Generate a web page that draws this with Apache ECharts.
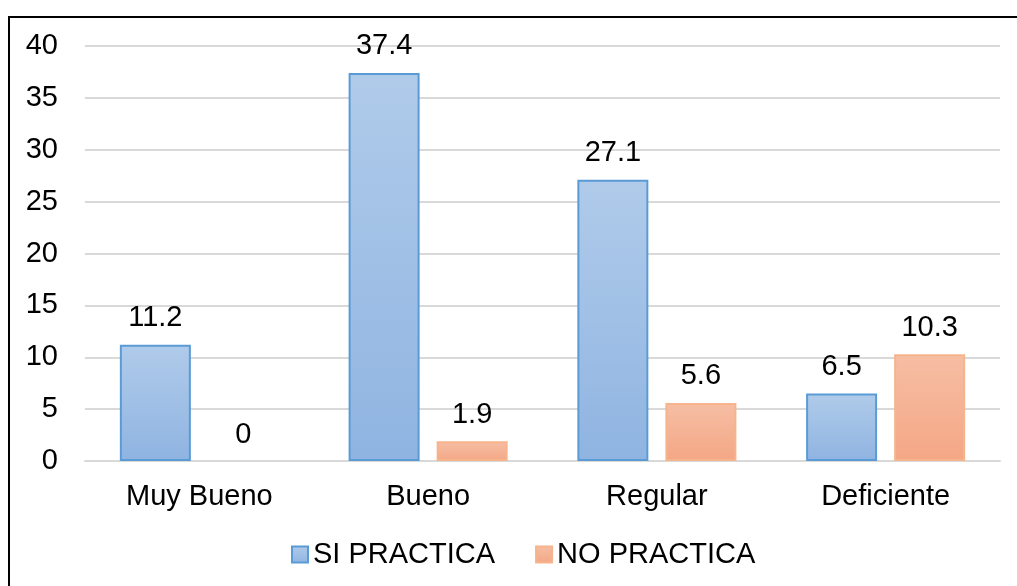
<!DOCTYPE html>
<html>
<head>
<meta charset="utf-8">
<script src="https://cdn.jsdelivr.net/npm/echarts@6/dist/echarts.min.js"></script>
<style>
  html, body { margin: 0; padding: 0; background: #fff; }
  #chart { width: 1017px; height: 586px; }
</style>
</head>
<body>
<div id="chart"></div>
<script>
const categories = ['Muy Bueno', 'Bueno', 'Regular', 'Deficiente'];
const siPractica = [11.2, 37.4, 27.1, 6.5];
const noPractica = [0, 1.9, 5.6, 10.3];
const seriesNames = ['SI PRACTICA', 'NO PRACTICA'];

const font = 'Liberation Sans, Arial, sans-serif';
const fontSize = 29;

function grad(top, bottom) {
  return new echarts.graphic.LinearGradient(0, 0, 0, 1, [
    { offset: 0, color: top },
    { offset: 1, color: bottom }
  ]);
}

// zero-height bars get no outline so only their label shows
function barData(values) {
  return values.map(v => v === 0 ? { value: v, itemStyle: { borderWidth: 0 } } : v);
}

const chart = echarts.init(document.getElementById('chart'), null, { renderer: 'canvas' });

const labelStyle = {
  show: true,
  position: 'top',
  distance: 12,
  fontFamily: font,
  fontSize: fontSize,
  color: '#000'
};

chart.setOption({
  animation: false,
  backgroundColor: '#fff',
  grid: { left: 85, right: 17, top: 46, bottom: 125 },
  legend: {
    top: 535,
    left: 286,
    itemWidth: 16,
    itemHeight: 16,
    itemGap: 40,
    icon: 'rect',
    textStyle: { fontFamily: font, fontSize: fontSize, color: '#000' },
    data: seriesNames
  },
  xAxis: {
    type: 'category',
    data: categories,
    axisLine: { show: true, lineStyle: { color: '#d9d9d9', width: 2 } },
    axisTick: { show: false },
    axisLabel: { fontFamily: font, fontSize: fontSize, color: '#000', margin: 21 }
  },
  yAxis: {
    type: 'value',
    min: 0,
    max: 40,
    interval: 5,
    axisLine: { show: false },
    axisTick: { show: false },
    axisLabel: { fontFamily: font, fontSize: fontSize, color: '#000', margin: 27 },
    splitLine: { lineStyle: { color: '#d9d9d9', width: 2 } }
  },
  series: [
    {
      name: seriesNames[0],
      type: 'bar',
      data: barData(siPractica),
      barWidth: 71,
      barGap: '24%',
      itemStyle: {
        color: grad('#b0cbea', '#8fb4e1'),
        borderColor: '#5b9bd5',
        borderWidth: 2
      },
      label: labelStyle
    },
    {
      name: seriesNames[1],
      type: 'bar',
      data: barData(noPractica),
      barWidth: 71,
      itemStyle: {
        color: grad('#f6bea4', '#f4a785'),
        borderColor: '#f6b48c',
        borderWidth: 2
      },
      label: labelStyle
    }
  ],
  graphic: [
    {
      type: 'polyline',
      shape: { points: [[9, 586], [9, 17], [1017, 17]] },
      style: { stroke: '#000', lineWidth: 2, fill: null },
      silent: true
    }
  ]
});
</script>
</body>
</html>
